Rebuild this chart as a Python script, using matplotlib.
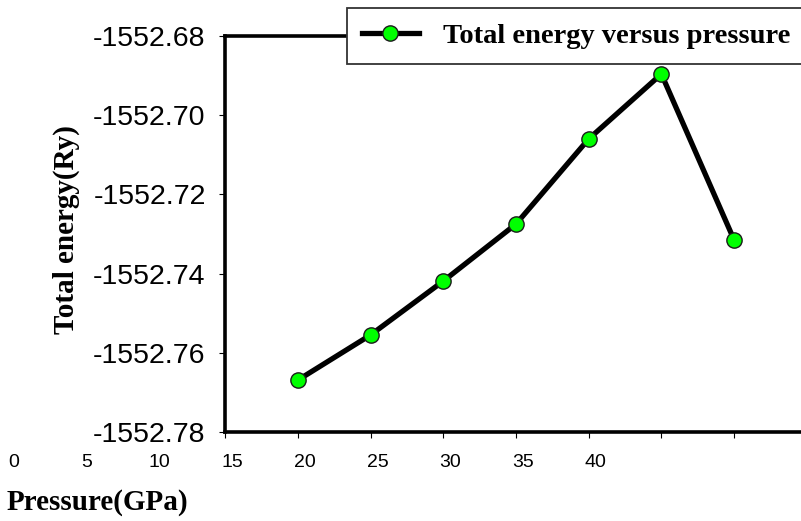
import numpy as np
import matplotlib
matplotlib.use("Agg")
import matplotlib.pyplot as plt
import matplotlib.transforms as mtransforms

# -----------------------------
# Data
# -----------------------------
pressure = [20, 25, 30, 35, 40, 45, 50]
energy = [-1552.7669, -1552.7555, -1552.7419, -1552.7275,
          -1552.7060, -1552.6896, -1552.7315]
xtick_labels = ["0", "5", "10", "15", "20", "25", "30", "35", "40"]
xtick_values = [0, 5, 10, 15, 20, 25, 30, 35, 40]
ytick_values = [-1552.68, -1552.70, -1552.72, -1552.74, -1552.76, -1552.78]

serif = "Liberation Serif"
sans = "Liberation Sans"

fig = plt.figure(figsize=(8.01, 5.21), dpi=100)
ax = fig.add_axes([0.281, 0.1708, 0.719, 0.7601])

ax.plot(pressure, energy, color="black", lw=3.8, marker="o", ms=11,
        mfc="#00ff00", mec="#1a1a1a", mew=1.0,
        label="Total energy versus pressure", zorder=3)

ax.set_xlim(15, 54.6)
ax.set_ylim(-1552.78, -1552.68)

# spines
for s in ["left", "top", "bottom"]:
    ax.spines[s].set_linewidth(2.6)
ax.spines["right"].set_visible(False)

# y ticks
ax.set_yticks(ytick_values)
ax.set_yticklabels([f"{v:.2f}" for v in ytick_values], fontfamily=sans, fontsize=20.5)
ax.tick_params(axis="y", direction="out", length=4, width=0.8, pad=10)

# x ticks: marks only, labels drawn as offset texts like the original
ax.set_xticks(np.arange(15, 55, 5))
ax.set_xticklabels([])
ax.tick_params(axis="x", direction="out", length=4, width=0.8)

trans = mtransforms.blended_transform_factory(ax.transData, ax.transAxes)
for v, lab in zip(xtick_values, xtick_labels):
    ax.text(v + 0.48, -0.078, lab, transform=trans, ha="center", va="center",
            fontfamily=sans, fontsize=14, clip_on=False)

# axis titles
fig.text(66 / 801, 1 - 230 / 521, "Total energy(Ry)", rotation=90,
         ha="center", va="center", fontfamily=serif, fontweight="bold", fontsize=21)
fig.text(7 / 801, 1 - 503 / 521, "Pressure(GPa)", ha="left", va="center",
         fontfamily=serif, fontweight="bold", fontsize=21)

# legend
leg = ax.legend(loc="upper left", bbox_to_anchor=(347 / 801, 1 - 8 / 521),
                bbox_transform=fig.transFigure, borderaxespad=0,
                prop={"family": serif, "weight": "bold", "size": 20.5},
                frameon=True, fancybox=False, framealpha=1,
                handlelength=2.0, handletextpad=0.85, borderpad=0.52)
leg.get_frame().set_edgecolor("#333333")
leg.get_frame().set_linewidth(1.3)

fig.savefig("out.png", dpi=100)
plt.close()
